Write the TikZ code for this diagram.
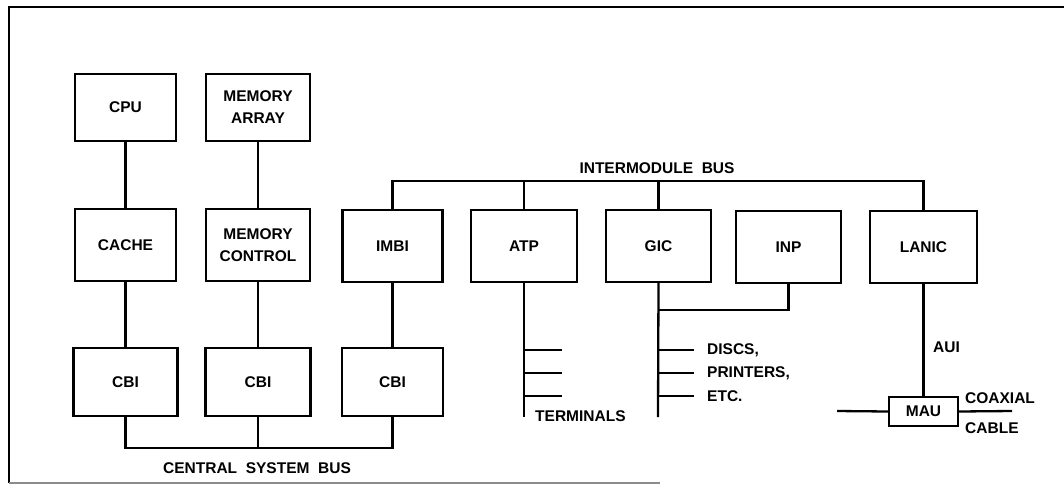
\documentclass[tikz,border=0pt]{standalone}
\usepackage{fontspec}
\setmainfont{Liberation Sans}
\begin{document}
\begin{tikzpicture}[x=1pt,y=-1pt,
  every node/.style={font=\fontsize{15.5}{22}\selectfont\bfseries},
  blk/.style={draw,line width=2.4pt,inner sep=0pt,align=center,minimum height=#1},
  blk/.default=70,
  wire/.style={line width=2.3pt},
  lbl/.style={inner sep=0pt}]
\useasboundingbox (0,0) rectangle (1064,485);
% frame
\draw[line width=2pt] (1064,7) -- (9,7) -- (9,483);
\draw[line width=1.2pt,black!45] (9,483) -- (660,483);
% boxes
\node[blk=67,minimum width=101] (cpu) at (125.5,107.5) {CPU};
\node[blk=67,minimum width=104] (marr) at (258,107.5) {MEMORY\\ARRAY};
\node[blk=72,minimum width=101] (cache) at (125.5,245) {CACHE};
\node[blk=72,minimum width=104] (mctl) at (258,245) {MEMORY\\CONTROL};
\node[blk=72,minimum width=100] (imbi) at (392.5,246) {IMBI};
\node[blk=72,minimum width=106] (atp) at (524,246) {ATP};
\node[blk=72,minimum width=105] (gic) at (658.5,246) {GIC};
\node[blk=72,minimum width=105] (inp) at (788.5,247) {INP};
\node[blk=72,minimum width=107] (lanic) at (923.5,247) {LANIC};
\node[blk=68,minimum width=104] (cbia) at (125.5,382) {CBI};
\node[blk=68,minimum width=105] (cbib) at (258,382) {CBI};
\node[blk=68,minimum width=101] (cbic) at (392.5,382) {CBI};
\node[blk=29,minimum width=69] (mau) at (923.5,411.5) {MAU};
% bus coordinates
\coordinate (csb) at (0,448);
\coordinate (imb) at (0,181);
% vertical links
\draw[wire] (cpu) -- (cache);
\draw[wire] (marr) -- (mctl);
\draw[wire] (cache) -- (cbia);
\draw[wire] (mctl) -- (cbib);
\draw[wire] (imbi) -- (cbic);
\draw[wire] (lanic) -- (mau);
% central system bus
\draw[wire] (cbia.south) -- (cbia.south |- csb) -- (cbic.south |- csb) -- (cbic.south);
\draw[wire] (cbib.south) -- (cbib.south |- csb);
\node[lbl] (csblbl) at (257,468) {CENTRAL\ \ SYSTEM\ \ BUS};
% intermodule bus
\draw[wire] (imbi.north) -- (imbi.north |- imb) -- (lanic.north |- imb) -- (lanic.north);
\draw[wire] (atp.north) -- (atp.north |- imb);
\draw[wire] (gic.north) -- (gic.north |- imb);
\node[lbl] (imblbl) at (657,168) {INTERMODULE\ \ BUS};
% ATP terminals
\coordinate (atpend) at (524,417);
\draw[wire] (atp.south) -- (atpend);
\foreach \y [count=\i] in {350,373,396}{
  \coordinate (ta\i) at (524,\y);
  \coordinate (tb\i) at (562,\y);
  \draw[wire] (ta\i) -- (tb\i);
}
\node[lbl,anchor=west] (term) at (535,416) {TERMINALS};
% GIC peripherals
\coordinate (gicend) at (658,417);
\coordinate (gj) at (658,310);
\draw[wire] (gic.south) -- (gicend);
\draw[wire] (gj) -| (inp.south);
\foreach \y [count=\i] in {350,373,396}{
  \coordinate (ga\i) at (658,\y);
  \coordinate (gb\i) at (694,\y);
  \draw[wire] (ga\i) -- (gb\i);
}
\node[lbl,anchor=west] (discs) at (707,350) {DISCS,};
\node[lbl,anchor=west] (print) at (707,373) {PRINTERS,};
\node[lbl,anchor=west] (etc) at (707,396) {ETC.};
% AUI / MAU / cable
\node[lbl,anchor=west] (aui) at (933,347) {AUI};
\coordinate (cl) at (837,411);
\coordinate (cr) at (1012,411);
\draw[wire] (cl) -- (mau.west);
\draw[wire] (mau.east) -- (cr);
\node[lbl,anchor=west] (coax) at (965,398) {COAXIAL};
\node[lbl,anchor=west] (cable) at (965,428) {CABLE};
\end{tikzpicture}
\end{document}
